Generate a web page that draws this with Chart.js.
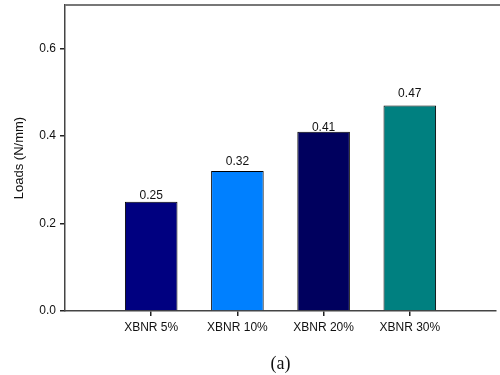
<!DOCTYPE html>
<html>
<head>
<meta charset="utf-8">
<script src="https://cdn.jsdelivr.net/npm/chart.js@4/dist/chart.umd.min.js"></script>
<style>
  html, body { margin: 0; padding: 0; background: #fff; }
  #wrap { width: 500px; height: 375px; }
</style>
</head>
<body>
<div id="wrap"><canvas id="c" width="500" height="375"></canvas></div>
<script>
// Peel loads for each XBNR content
const categories = ['XBNR 5%', 'XBNR 10%', 'XBNR 20%', 'XBNR 30%'];
const loads = [0.25, 0.32, 0.41, 0.47];
const yTicks = [0.0, 0.2, 0.4, 0.6];

const barColors = ['#000080', '#0080FF', '#00005E', '#008080'];

// blank slots at each end keep the bars centred on the inner tick marks
const labels = [''].concat(categories, ['']);
const values = [null].concat(loads, [null]);
const colors = ['#fff'].concat(barColors, ['#fff']);

const frameAndLabels = {
  id: 'frameAndLabels',
  afterDatasetsDraw(chart, args, opts) {
    const { ctx, chartArea } = chart;
    // top frame line
    ctx.save();
    ctx.strokeStyle = '#777';
    ctx.lineWidth = 2;
    ctx.beginPath();
    ctx.moveTo(chartArea.left, chartArea.top);
    ctx.lineTo(chart.width, chartArea.top);
    ctx.stroke();

    // value labels over each bar
    const meta = chart.getDatasetMeta(0);
    ctx.fillStyle = '#111';
    ctx.font = '12px "Liberation Sans", Arial, sans-serif';
    ctx.textAlign = 'center';
    ctx.textBaseline = 'middle';
    meta.data.forEach((bar, i) => {
      const v = values[i];
      if (v == null) return;
      const lift = opts.lift[i - 1];
      ctx.fillText(v.toFixed(2), bar.x, bar.y - lift);
    });
    ctx.restore();
  }
};

const innerTick = (c) => (c.index === 0 || c.index === labels.length - 1) ? 'rgba(0,0,0,0)' : '#222';

new Chart(document.getElementById('c'), {
  type: 'bar',
  data: {
    labels: labels,
    datasets: [{
      data: values,
      backgroundColor: colors,
      borderColor: '#000',
      borderWidth: 1,
      borderSkipped: 'bottom',
      categoryPercentage: 1,
      barPercentage: 0.61
    }]
  },
  plugins: [frameAndLabels],
  options: {
    responsive: false,
    animation: false,
    layout: { padding: { top: 5, right: 0, left: 0, bottom: 0 } },
    plugins: {
      legend: { display: false },
      tooltip: { enabled: false },
      frameAndLabels: { lift: [6, 9, 4, 12] }
    },
    scales: {
      x: {
        offset: false,
        grid: {
          offset: false,
          drawOnChartArea: false,
          drawTicks: true,
          tickLength: 5,
          lineWidth: 1.5,
          color: innerTick,
          tickColor: innerTick
        },
        border: { display: true, color: '#444', width: 1.5 },
        ticks: {
          color: '#111',
          padding: 4,
          maxRotation: 0,
          autoSkip: false,
          font: { family: '"Liberation Sans", Arial, sans-serif', size: 12 }
        },
        title: {
          display: true,
          text: '(a)',
          color: '#111',
          padding: { top: 12, bottom: 0 },
          font: { family: '"Liberation Serif", "Times New Roman", serif', size: 18 }
        },
        afterFit(scale) { scale.height = 64; }
      },
      y: {
        min: 0,
        max: 0.7,
        afterBuildTicks(scale) {
          scale.ticks = yTicks.map(v => ({ value: v }));
        },
        grid: {
          drawOnChartArea: false,
          drawTicks: true,
          tickLength: 5,
          lineWidth: 1.5,
          color: '#222'
        },
        border: { display: true, color: '#444', width: 1.5 },
        ticks: {
          color: '#111',
          padding: 4,
          callback: (v) => Number(v).toFixed(1),
          font: { family: '"Liberation Sans", Arial, sans-serif', size: 12 }
        },
        title: {
          display: true,
          text: 'Loads (N/mm)',
          color: '#111',
          padding: { top: 12, bottom: 0 },
          font: { family: '"Liberation Sans", Arial, sans-serif', size: 13 }
        },
        afterFit(scale) {
          scale.width = 65;
          scale.paddingTop = 0;
        }
      }
    }
  }
});
</script>
</body>
</html>
